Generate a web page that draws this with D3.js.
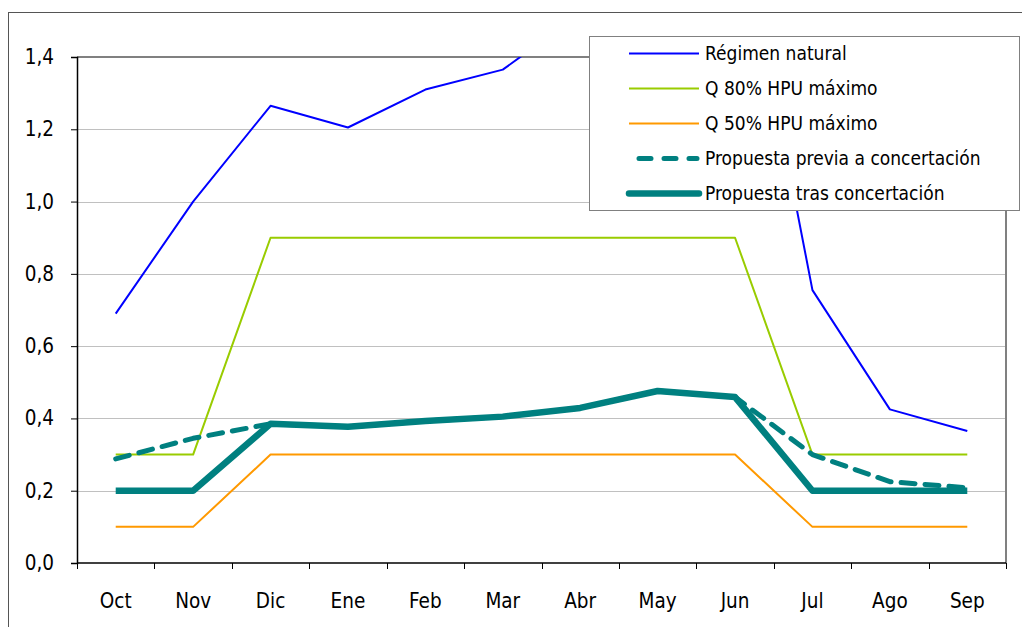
<html>
<head>
<meta charset="utf-8">
<script src="https://d3js.org/d3.v7.min.js"></script>
<style>
    body, html {
        margin: 0;
        padding: 0;
        background: white;
        font-family: "DejaVu Sans Condensed", "DejaVu Sans", sans-serif;
    }
</style>
</head>
<body>
<div id="my_dataviz"></div>
<script>

// months (hydrological year)
var months = ["Oct", "Nov", "Dic", "Ene", "Feb", "Mar", "Abr", "May", "Jun", "Jul", "Ago", "Sep"];
var yTicks = [0, 0.2, 0.4, 0.6, 0.8, 1.0, 1.2, 1.4];

var regimenNatural = [0.69, 1.0, 1.265, 1.205, 1.31, 1.365, 1.52, 1.70, 1.86, 0.755, 0.425, 0.365];
var q80 = [0.3, 0.3, 0.9, 0.9, 0.9, 0.9, 0.9, 0.9, 0.9, 0.3, 0.3, 0.3];
var q50 = [0.1, 0.1, 0.3, 0.3, 0.3, 0.3, 0.3, 0.3, 0.3, 0.1, 0.1, 0.1];
var propuestaPrevia = [0.288, 0.345, 0.385, 0.377, 0.393, 0.405, 0.429, 0.476, 0.459, 0.30, 0.225, 0.208];
var propuestaTras = [0.2, 0.2, 0.385, 0.377, 0.393, 0.405, 0.429, 0.476, 0.459, 0.2, 0.2, 0.2];

var seriesNames = ["Régimen natural", "Q 80% HPU máximo", "Q 50% HPU máximo",
                   "Propuesta previa a concertación", "Propuesta tras concertación"];

var series = [
    {name: seriesNames[0], values: regimenNatural, color: "#0000ff", width: 2, dash: null},
    {name: seriesNames[1], values: q80, color: "#99cc00", width: 2, dash: null},
    {name: seriesNames[2], values: q50, color: "#ff9900", width: 2, dash: null},
    {name: seriesNames[3], values: propuestaPrevia, color: "#008080", width: 5, dash: "14,10"},
    {name: seriesNames[4], values: propuestaTras, color: "#008080", width: 6.5, dash: null}
];

var W = 1022, H = 627;
var margin = {top: 57, left: 77, right: 16, bottom: 64};
var width = W - margin.left - margin.right;
var height = H - margin.top - margin.bottom;

var root = d3.select("#my_dataviz")
    .append("svg")
    .attr("width", W)
    .attr("height", H);

// outer chart frame
root.append("rect")
    .attr("x", 8.5).attr("y", 12.5)
    .attr("width", 1030).attr("height", 640)
    .attr("fill", "white")
    .attr("stroke", "#555").attr("stroke-width", 1);

var svg = root.append("g")
    .attr("transform", "translate(" + margin.left + "," + margin.top + ")");

var x = d3.scaleBand()
    .domain(months)
    .range([0, width]);

var y = d3.scaleLinear()
    .domain([0, 1.4])
    .range([height, 0]);

svg.append("defs").append("clipPath")
    .attr("id", "plotclip")
    .append("rect")
    .attr("x", 0).attr("y", 0)
    .attr("width", width).attr("height", height);

// gridlines
svg.append("g")
    .selectAll("line")
    .data(yTicks.slice(1, -1))
    .enter()
    .append("line")
    .attr("x1", 0).attr("x2", width)
    .attr("y1", function(d){ return Math.round(y(d)) + 0.5; })
    .attr("y2", function(d){ return Math.round(y(d)) + 0.5; })
    .attr("stroke", "#c0c0c0")
    .attr("stroke-width", 1);

// top and right plot border
svg.append("line")
    .attr("x1", 0).attr("x2", width + 1)
    .attr("y1", 0).attr("y2", 0)
    .attr("stroke", "#808080").attr("stroke-width", 2);
svg.append("line")
    .attr("x1", width).attr("x2", width)
    .attr("y1", 0).attr("y2", height)
    .attr("stroke", "#808080").attr("stroke-width", 2);

// Y axis
var yAxis = svg.append("g")
    .call(d3.axisLeft(y)
        .tickValues(yTicks)
        .tickSize(6)
        .tickPadding(17)
        .tickFormat(function(d){ return d3.format(".1f")(d).replace(".", ","); }));

// X axis
var xAxis = svg.append("g")
    .attr("transform", "translate(0," + height + ")")
    .call(d3.axisBottom(x).tickSize(0).tickPadding(30));

// category boundary ticks
svg.append("g")
    .selectAll("line")
    .data(months.concat(["end"]))
    .enter()
    .append("line")
    .attr("x1", function(d, i){ return Math.round(i * x.bandwidth()) + 0.5; })
    .attr("x2", function(d, i){ return Math.round(i * x.bandwidth()) + 0.5; })
    .attr("y1", height)
    .attr("y2", height + 6)
    .attr("stroke", "black");

[yAxis, xAxis].forEach(function(a){
    a.select(".domain").attr("stroke", "black").attr("stroke-width", 1.5);
    a.selectAll("text")
        .attr("font-family", "'DejaVu Sans Condensed', 'DejaVu Sans', sans-serif")
        .attr("font-size", "20.5px")
        .attr("fill", "black");
});
xAxis.select(".domain").attr("d", "M0,0H" + width);

// lines
var line = d3.line()
    .x(function(d, i){ return x(months[i]) + x.bandwidth() / 2; })
    .y(function(d){ return y(d); });

svg.append("g")
    .attr("clip-path", "url(#plotclip)")
    .selectAll("path")
    .data(series)
    .enter()
    .append("path")
    .attr("d", function(d){ return line(d.values); })
    .attr("fill", "none")
    .attr("stroke", function(d){ return d.color; })
    .attr("stroke-width", function(d){ return d.width; })
    .attr("stroke-dasharray", function(d){ return d.dash; })
    .attr("stroke-linecap", function(d){ return d.dash ? "round" : "butt"; })
    .attr("stroke-linejoin", "round");

// legend
var legend = root.append("g")
    .attr("transform", "translate(589,36)");

legend.append("rect")
    .attr("x", 0.5).attr("y", 0.5)
    .attr("width", 430).attr("height", 174)
    .attr("fill", "white")
    .attr("stroke", "#808080")
    .attr("stroke-width", 1);

var rows = legend.selectAll(".row")
    .data(series)
    .enter()
    .append("g")
    .attr("class", "row")
    .attr("transform", function(d, i){ return "translate(0," + (17.5 + i * 35) + ")"; });

rows.append("line")
    .attr("x1", function(d){ return d.dash ? 50 : 40; })
    .attr("x2", function(d){ return d.dash ? 108 : 110; })
    .attr("y1", 0).attr("y2", 0)
    .attr("stroke", function(d){ return d.color; })
    .attr("stroke-width", function(d){ return d.width; })
    .attr("stroke-dasharray", function(d){ return d.dash ? "12,13" : null; })
    .attr("stroke-linecap", function(d){ return d.width > 3 ? "round" : "butt"; });

rows.append("text")
    .attr("x", 116)
    .attr("y", 0)
    .attr("dy", "0.35em")
    .attr("font-size", "19px")
    .attr("fill", "black")
    .text(function(d){ return d.name; });

</script>
</body>
</html>
